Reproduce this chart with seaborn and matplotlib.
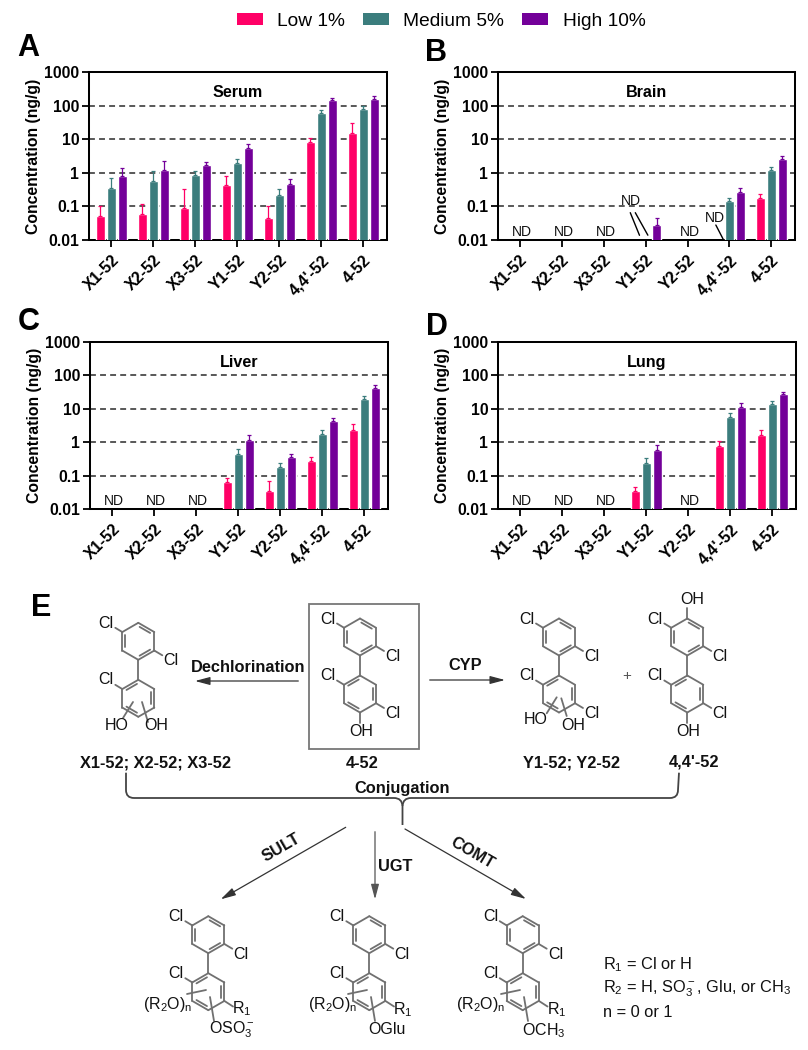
import numpy as np
import pandas as pd
import seaborn as sns
import matplotlib.pyplot as plt
from matplotlib.lines import Line2D
from matplotlib.patches import Patch, PathPatch, Rectangle
from matplotlib.path import Path

W, H = 808, 1050

compounds = ['X1-52', 'X2-52', 'X3-52', 'Y1-52', 'Y2-52', "4,4'-52", '4-52']
doses = ['Low 1%', 'Medium 5%', 'High 10%']
dose_colors = ['#FF0066', '#3B7D7D', '#730099']

# None = not detected
serum_low = [0.052, 0.06, 0.09, 0.43, 0.044, 8.3, 15.5]
serum_low_top = [0.1, 0.12, 0.34, 0.82, 0.1, 11, 30]
serum_med = [0.36, 0.58, 0.87, 1.9, 0.22, 60, 80]
serum_med_top = [0.7, 1.1, 1.15, 2.5, 0.34, 72, 100]
serum_high = [0.78, 1.2, 1.65, 5.5, 0.47, 145, 160]
serum_high_top = [1.4, 2.3, 2.15, 7.2, 0.65, 170, 195]

brain_low = [None, None, None, None, None, None, 0.175]
brain_low_top = [None, None, None, None, None, None, 0.23]
brain_med = [None, None, None, None, None, 0.145, 1.25]
brain_med_top = [None, None, None, None, None, 0.175, 1.5]
brain_high = [None, None, None, 0.028, None, 0.27, 2.5]
brain_high_top = [None, None, None, 0.044, None, 0.36, 3.1]

liver_low = [None, None, None, 0.065, 0.034, 0.27, 2.4]
liver_low_top = [None, None, None, 0.082, 0.07, 0.36, 3.5]
liver_med = [None, None, None, 0.45, 0.18, 1.8, 20]
liver_med_top = [None, None, None, 0.63, 0.245, 2.4, 24]
liver_high = [None, None, None, 1.15, 0.35, 4.2, 43]
liver_high_top = [None, None, None, 1.6, 0.44, 5.3, 50]

lung_low = [None, None, None, 0.034, None, 0.78, 1.7]
lung_low_top = [None, None, None, 0.046, None, 1.05, 2.25]
lung_med = [None, None, None, 0.24, None, 5.8, 14]
lung_med_top = [None, None, None, 0.33, None, 7.5, 17]
lung_high = [None, None, None, 0.6, None, 11.5, 27]
lung_high_top = [None, None, None, 0.82, None, 14.5, 32]

y_ticks = [0.01, 0.1, 1, 10, 100, 1000]
y_labels = ['0.01', '0.1', '1', '10', '100', '1000']

sns.set_theme(style='ticks')
plt.rcParams['font.family'] = ['Liberation Sans', 'DejaVu Sans']
plt.rcParams['mathtext.fontset'] = 'custom'
plt.rcParams['mathtext.rm'] = 'Liberation Sans'
plt.rcParams['mathtext.default'] = 'rm'

fig = plt.figure(figsize=(W / 100, H / 100), dpi=100)


def px_axes(l, t, r, b):
    return fig.add_axes([l / W, 1 - b / H, (r - l) / W, (b - t) / H])


def panel(box, title, series, tops, nd_at):
    ax = px_axes(*box)
    rows = []
    for dose, vals in zip(doses, series):
        for c, v in zip(compounds, vals):
            rows.append((c, dose, np.nan if v is None else v))
    df = pd.DataFrame(rows, columns=['compound', 'dose', 'conc'])
    sns.barplot(data=df, x='compound', y='conc', hue='dose', order=compounds,
                hue_order=doses, palette=dose_colors, saturation=1, width=0.78,
                gap=0.15, errorbar=None, legend=False, zorder=3, ax=ax)
    ax.set_yscale('log')
    for cont, vals, top, col in zip(ax.containers, series, tops, dose_colors):
        v = [x for x in vals if x is not None]
        t = [x for x in top if x is not None]
        xs = [p.get_x() + p.get_width() / 2 for p in cont.patches if not np.isnan(p.get_height())]
        ax.errorbar(xs, v, yerr=[np.zeros(len(v)), np.array(t) - np.array(v)], fmt='none',
                    ecolor=col, elinewidth=0.9, capsize=1.6, capthick=0.9, zorder=3)
    for y in y_ticks[1:-1]:
        ax.axhline(y, color='#444444', lw=1.25, ls=(0, (3.4, 2.4)), zorder=1)
    ax.set_xlim(-0.53, 6.565)
    ax.set_ylim(0.01, 1000)
    ax.set_yticks(y_ticks)
    ax.set_yticklabels(y_labels, fontsize=11.3, fontweight='bold', color='black')
    ax.minorticks_off()
    ax.set_xticks(range(len(compounds)))
    ax.set_xticklabels(compounds, rotation=45, ha='right', rotation_mode='anchor',
                       fontsize=11.5, fontweight='bold', color='black')
    ax.tick_params(axis='both', length=5, width=1.3, color='black', pad=2)
    ax.tick_params(axis='x', pad=4)
    for s in ax.spines.values():
        s.set_visible(True)
        s.set_linewidth(1.45)
        s.set_color('black')
    ax.set_xlabel('')
    ax.set_ylabel('Concentration (ng/g)', fontsize=11.35, fontweight='bold', color='black')
    ax.yaxis.set_label_coords(-0.16, 0.5)
    ax.text(0.5, 0.88, title, transform=ax.transAxes, ha='center', va='center',
            fontsize=11.6, fontweight='bold', color='black')
    for i in nd_at:
        ax.text(i + 0.05, 0.0172, 'ND', ha='center', va='center', fontsize=10, color='#111111')
    return ax


ax_a = panel((89, 72, 387, 240), 'Serum', [serum_low, serum_med, serum_high],
             [serum_low_top, serum_med_top, serum_high_top], [])
ax_b = panel((498, 72, 795, 240), 'Brain', [brain_low, brain_med, brain_high],
             [brain_low_top, brain_med_top, brain_high_top], [0, 1, 2, 4])
ax_c = panel((90, 342, 388, 509), 'Liver', [liver_low, liver_med, liver_high],
             [liver_low_top, liver_med_top, liver_high_top], [0, 1, 2])
ax_d = panel((498, 342, 796, 509), 'Lung', [lung_low, lung_med, lung_high],
             [lung_low_top, lung_med_top, lung_high_top], [0, 1, 2, 4])

# ND callouts in the brain panel
ax_b.text(3 - 0.36, 0.148, 'ND', ha='center', va='center', fontsize=10, color='#111111')
ax_b.text(5 - 0.34, 0.0443, 'ND', ha='center', va='center', fontsize=10, color='#111111')
ax_b.plot([3 - 0.37, 3 - 0.15], [0.065, 0.0138], color='black', lw=1.0)
ax_b.plot([3 - 0.25, 3 + 0.05], [0.065, 0.0139], color='black', lw=1.0)
ax_b.plot([5 - 0.326, 5 - 0.143], [0.0279, 0.0101], color='black', lw=1.0)

handles = [Patch(facecolor=c, edgecolor='none', label=d) for c, d in zip(dose_colors, doses)]
fig.legend(handles=handles, loc='center', bbox_to_anchor=(441 / W, 1 - 21 / H), ncol=3, frameon=False,
           fontsize=13.8, handlelength=1.35, handleheight=0.6, handletextpad=0.75,
           columnspacing=0.95, borderaxespad=0, labelcolor='black')

# panel E and the panel letters live on an overlay in pixel units
ov = fig.add_axes([0, 0, 1, 1], zorder=5)
ov.set_xlim(0, W)
ov.set_ylim(H, 0)
ov.axis('off')
ov.patch.set_alpha(0)

for letter, x, y in [('A', 28, 48), ('B', 436, 53), ('C', 29, 322), ('D', 437, 327), ('E', 41, 608)]:
    ov.text(x, y, letter, ha='center', va='center', fontsize=22, fontweight='bold', color='black')

BOND = '#707070'
R = 18.5
RING_GAP = 57


def seg(x0, y0, x1, y1, lw=1.3, color=BOND):
    ov.add_line(Line2D([x0, x1], [y0, y1], color=color, lw=lw, solid_capstyle='round'))


def ring(cx, cy, doubles):
    ang = np.radians(-90 + 60 * np.arange(6))
    vx, vy = cx + R * np.cos(ang), cy + R * np.sin(ang)
    for i in range(6):
        j = (i + 1) % 6
        seg(vx[i], vy[i], vx[j], vy[j])
        if i in doubles:
            ax0, ay0 = cx + 0.82 * (vx[i] - cx), cy + 0.82 * (vy[i] - cy)
            ax1, ay1 = cx + 0.82 * (vx[j] - cx), cy + 0.82 * (vy[j] - cy)
            seg(ax0 + 0.1 * (ax1 - ax0), ay0 + 0.1 * (ay1 - ay0),
                ax1 - 0.1 * (ax1 - ax0), ay1 - 0.1 * (ay1 - ay0))


def label(x, y, s, **kw):
    kw.setdefault('fontsize', 11.5)
    kw.setdefault('color', '#111111')
    ov.text(x, y, s, ha='center', va='center', **kw)


def molecule(cx, cy, lower_right_cl=False, lower_oh=False, top_oh=False):
    ring(cx, cy, [0, 2, 4])
    ring(cx, cy + RING_GAP, [5, 1, 3])
    seg(cx, cy + R, cx, cy + RING_GAP - R)
    seg(cx - 16, cy - 9.25, cx - 23, cy - 13.5)
    label(cx - 32, cy - 18, 'Cl')
    seg(cx + 16, cy + 9.25, cx + 24, cy + 14)
    label(cx + 33, cy + 19.5, 'Cl')
    seg(cx - 16, cy + RING_GAP - 9.25, cx - 23, cy + RING_GAP - 13.5)
    label(cx - 32, cy + 38.7, 'Cl')
    if lower_right_cl:
        seg(cx + 16, cy + RING_GAP + 9.25, cx + 24, cy + RING_GAP + 14)
        label(cx + 33, cy + 77, 'Cl')
    if lower_oh:
        seg(cx, cy + RING_GAP + R, cx, cy + RING_GAP + R + 10)
        label(cx + 1, cy + 95, 'OH')
    if top_oh:
        seg(cx, cy - R, cx, cy - R - 11)
        label(cx + 5, cy - 38, 'OH')


def arrow(x0, y0, x1, y1, color='#333333'):
    ov.annotate('', xy=(x1, y1), xytext=(x0, y0),
                arrowprops=dict(arrowstyle='-|>,head_length=0.75,head_width=0.2', lw=0.9,
                                color=color, shrinkA=0, shrinkB=0))


def bold(x, y, s, rot=0):
    ov.text(x, y, s, ha='center', va='center', fontsize=11.8, fontweight='bold',
            color='#111111', rotation=rot, rotation_mode='anchor')


# top row of structures
molecule(138.3, 641.3)
seg(133, 702, 123, 718)
seg(142, 702, 148, 722)
label(117, 725, 'HO')
label(156, 725, 'OH')

ov.add_patch(Rectangle((309, 604), 110, 145.3, fill=False, ec='#777777', lw=1.3))
molecule(360, 637, lower_right_cl=True, lower_oh=True)

molecule(559, 637, lower_right_cl=True)
seg(556.7, 697.3, 546.7, 713.3)
seg(561.3, 698.3, 566.7, 716)
label(535.7, 720, 'HO')
label(573, 725, 'OH')

molecule(687.3, 637, lower_right_cl=True, lower_oh=True, top_oh=True)
label(626.7, 676, '+', fontsize=11, color='#555555')

arrow(298.3, 681, 195, 681)
bold(248.3, 667.7, 'Dechlorination')
arrow(429.7, 680, 505, 680)
bold(464.7, 666, 'CYP')

bold(155.7, 763.3, 'X1-52; X2-52; X3-52')
bold(361.7, 764, '4-52')
bold(571.3, 762.7, 'Y1-52; Y2-52')
bold(694, 762, "4,4'-52")
bold(402, 789, 'Conjugation')

# brace joining the metabolites
brace_pts = [(126, 772.7), (126, 790), (126, 798), (134, 798), (394, 798), (402, 798), (402.5, 806),
             (402.5, 825)]
brace_codes = [Path.MOVETO, Path.LINETO, Path.CURVE3, Path.CURVE3, Path.LINETO, Path.CURVE3, Path.CURVE3,
               Path.LINETO]
ov.add_patch(PathPatch(Path(brace_pts, brace_codes), fill=False, ec='#444444', lw=1.3))
brace_pts = [(679, 772.7), (678, 790), (678, 798), (670, 798), (411, 798), (403, 798), (402.5, 806)]
brace_codes = [Path.MOVETO, Path.LINETO, Path.CURVE3, Path.CURVE3, Path.LINETO, Path.CURVE3, Path.CURVE3]
ov.add_patch(PathPatch(Path(brace_pts, brace_codes), fill=False, ec='#444444', lw=1.3))

arrow(345.7, 827.3, 220.7, 899.3)
bold(281.7, 847.3, 'SULT', rot=30)
arrow(375, 831.7, 375, 899.3, color='#555555')
bold(395, 866.7, 'UGT')
arrow(405, 829, 526, 899)
bold(472.7, 853.3, 'COMT', rot=-30)

# bottom row of structures
molecule(208.3, 934.7)
seg(224.5, 1001, 233, 1006.5)
label(242, 1009, 'R$_1$')
label(168, 1005, '(R$_2$O)$_n$')
seg(187, 994, 206, 990)
seg(210, 997, 214, 1021)
label(232, 1030, 'OSO$_3^-$')

molecule(369.3, 934.7)
seg(385.5, 1001, 394, 1006.5)
label(403, 1010, 'R$_1$')
label(332.3, 1005, '(R$_2$O)$_n$')
seg(348, 994, 367, 990)
seg(371, 997, 375, 1021)
label(386.7, 1029, 'OGlu')

molecule(522.7, 934.7)
seg(539, 1001, 547.5, 1006.5)
label(556.5, 1010, 'R$_1$')
label(480.7, 1005, '(R$_2$O)$_n$')
seg(501, 994, 520, 990)
seg(524, 997, 528, 1021)
label(544, 1031, 'OCH$_3$')

for y, s in [(965, 'R$_1$ = Cl or H'), (989, 'R$_2$ = H, SO$_3^-$, Glu, or CH$_3$'), (1012.7, 'n = 0 or 1')]:
    ov.text(603.3, y, s, ha='left', va='center', fontsize=11.8, color='#111111')

fig.savefig('out.png', dpi=100)
